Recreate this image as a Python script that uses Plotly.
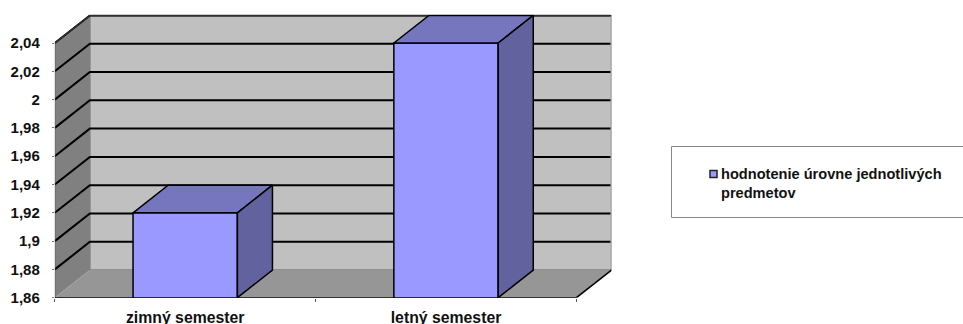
import plotly.graph_objects as go

W, H = 963, 324

categories = ["zimný semester", "letný semester"]
values = [1.92, 2.04]
series_name = "hodnotenie úrovne jednotlivých<br>predmetov"
y_ticks = [1.86, 1.88, 1.9, 1.92, 1.94, 1.96, 1.98, 2, 2.02, 2.04]
y_labels = ["1,86", "1,88", "1,9", "1,92", "1,94", "1,96", "1,98", "2", "2,02", "2,04"]

# fake 3d depth, in axis units
DX = 0.1345
DY = 0.0195
BAR_W = 0.4
Y_MIN = 1.86
Y_TOP = y_ticks[-1] + DY
X_L, X_R = -0.5, 1.5

FONT = "Liberation Sans, Arial, sans-serif"


def px_x(p):
    return p / W


def px_y(p):
    return 1 - p / H


def poly(pts):
    return "M " + " L ".join(f"{x},{y}" for x, y in pts) + " Z"


shapes = []

# back wall
shapes.append(dict(type="path", path=poly([(X_L + DX, Y_MIN + DY), (X_R + DX, Y_MIN + DY), (X_R + DX, Y_TOP), (X_L + DX, Y_TOP)]),
                   fillcolor="#C0C0C0", line=dict(color="#808080", width=1.5), layer="below"))
# left wall
shapes.append(dict(type="path", path=poly([(X_L, Y_MIN), (X_L + DX, Y_MIN + DY), (X_L + DX, Y_TOP), (X_L, y_ticks[-1])]),
                   fillcolor="#808080", line=dict(width=0), layer="below"))
# floor
shapes.append(dict(type="path", path=poly([(X_L, Y_MIN), (X_R, Y_MIN), (X_R + DX, Y_MIN + DY), (X_L + DX, Y_MIN + DY)]),
                   fillcolor="#969696", line=dict(width=0), layer="below"))

# gridlines go across the left wall and the back wall
for t in y_ticks[1:]:
    shapes.append(dict(type="path", path=f"M {X_L},{t} L {X_L + DX},{t + DY} L {X_R + DX - 0.004},{t + DY}",
                       line=dict(color="#000000", width=2), layer="below"))
shapes.append(dict(type="path", path=f"M {X_L},{y_ticks[-1]} L {X_L + DX},{Y_TOP} L {X_R + DX},{Y_TOP}",
                   line=dict(color="#303030", width=1.5), layer="below"))

# front edges of the floor
shapes.append(dict(type="path", path=f"M {X_L},{Y_MIN} L {X_R},{Y_MIN} L {X_R + DX},{Y_MIN + DY}",
                   line=dict(color="#000000", width=1.5), layer="above"))
shapes.append(dict(type="line", x0=X_L, x1=X_L, y0=Y_MIN, y1=y_ticks[-1], line=dict(color="#555555", width=1), layer="below"))

# legend box, runs off the right edge
shapes.append(dict(type="path", xref="paper", yref="paper",
                   path=f"M {px_x(970)},{px_y(146.5)} L {px_x(671.5)},{px_y(146.5)} L {px_x(671.5)},{px_y(217.5)} L {px_x(970)},{px_y(217.5)}",
                   line=dict(color="#888888", width=1)))
shapes.append(dict(type="rect", xref="paper", yref="paper",
                   x0=px_x(710), x1=px_x(717), y0=px_y(170.5), y1=px_y(177.5),
                   fillcolor="#9999FF", line=dict(color="#222222", width=1.5)))

fig = go.Figure()

fig.add_trace(go.Bar(
    x=[0, 1],
    y=values,
    width=BAR_W,
    marker=dict(color="#9999FF", line=dict(color="#000000", width=1.5)),
    showlegend=False,
    hoverinfo="skip",
))

# top and side faces of the bars
for i, v in enumerate(values):
    l, r = i - BAR_W / 2, i + BAR_W / 2
    fig.add_trace(go.Scatter(
        x=[l, r, r + DX, l + DX, l],
        y=[v, v, v + DY, v + DY, v],
        mode="lines", fill="toself", fillcolor="#7676BF",
        line=dict(color="#000000", width=1.5),
        showlegend=False, hoverinfo="skip",
    ))
    fig.add_trace(go.Scatter(
        x=[r, r + DX, r + DX, r, r],
        y=[Y_MIN, Y_MIN + DY, v + DY, v, Y_MIN],
        mode="lines", fill="toself", fillcolor="#62629F",
        line=dict(color="#000000", width=1.5),
        showlegend=False, hoverinfo="skip",
    ))

fig.update_layout(
    width=W,
    height=H,
    margin=dict(l=0, r=0, t=0, b=0, pad=0),
    paper_bgcolor="#FFFFFF",
    plot_bgcolor="rgba(0,0,0,0)",
    font=dict(family=FONT, color="#111111"),
    shapes=shapes,
    annotations=[dict(
        xref="paper", yref="paper",
        x=px_x(719), y=px_y(164),
        xanchor="left", yanchor="top", align="left",
        showarrow=False,
        text=f"<b>{series_name.replace('<br>', '</b><br><b>')}</b>",
        font=dict(size=14.6, family=FONT, color="#111111"),
    )],
)

fig.update_xaxes(
    automargin=False,
    domain=[px_x(54.8), px_x(611.5)],
    range=[X_L, X_R + DX],
    tickmode="array",
    tickvals=[0, 1],
    ticktext=[f"<b>{c}</b>" for c in categories],
    tickfont=dict(size=15.8, family=FONT, color="#111111"),
    ticks="",
    ticklabelstandoff=8,
    showgrid=False,
    zeroline=False,
    showline=False,
    minor=dict(tickvals=[X_L, 0.5, X_R], ticks="outside", ticklen=3, tickcolor="#555555", showgrid=False),
)
fig.update_yaxes(
    automargin=False,
    domain=[px_y(297.7), px_y(14.7)],
    range=[Y_MIN, Y_TOP + 0.0005],
    tickmode="array",
    tickvals=y_ticks,
    ticktext=[f"<b>{s}</b>" for s in y_labels],
    tickfont=dict(size=15, family=FONT, color="#111111"),
    ticks="outside",
    ticklen=2,
    tickcolor="#777777",
    ticklabelstandoff=9,
    showgrid=False,
    zeroline=False,
    showline=False,
)

# the page has a default body margin, drop it so the figure fills the window
fig.write_html(
    "out.html",
    config={"displayModeBar": False},
    post_script="document.body.style.margin='0';document.body.style.overflow='hidden';",
)
